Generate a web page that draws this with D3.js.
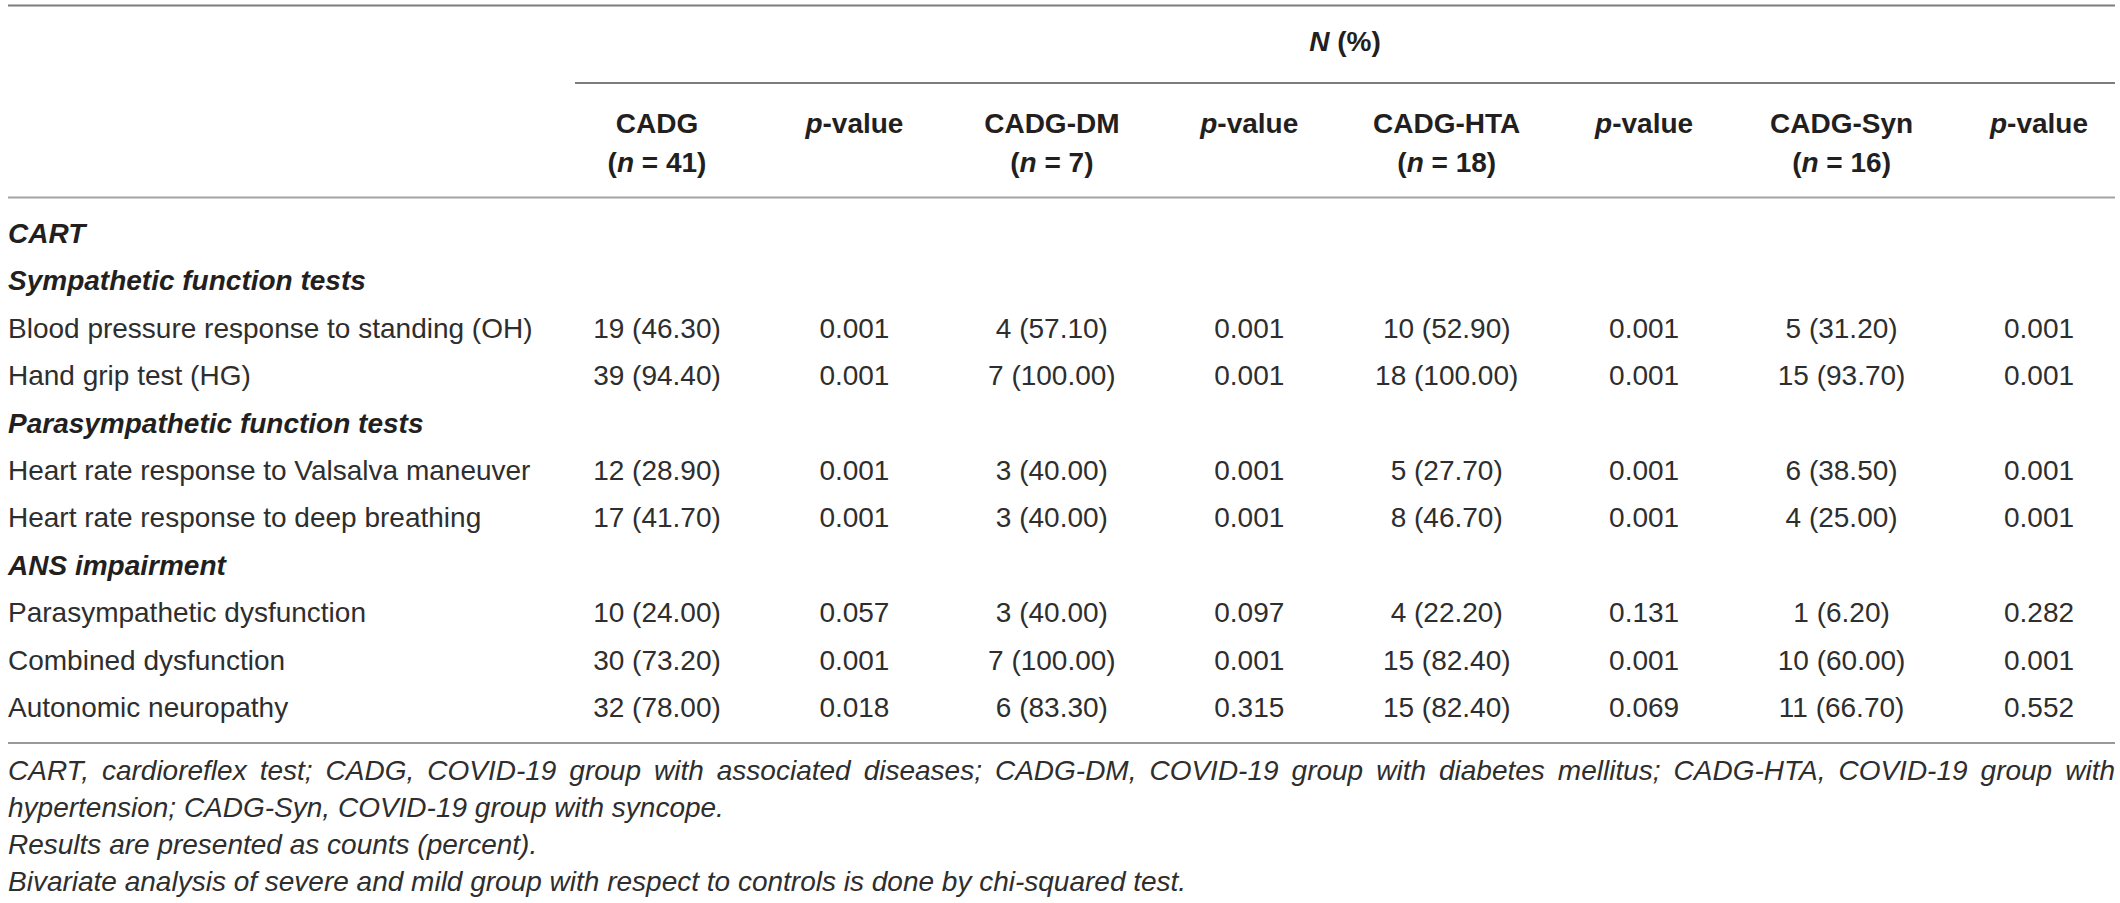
<!DOCTYPE html>
<html>
<head>
<meta charset="utf-8">
<script src="https://cdn.jsdelivr.net/npm/d3@7"></script>
<style>
  body { margin: 0; background: #fff; }
  svg { display: block; }
  text { font-family: "Liberation Sans", Arial, sans-serif; fill: #231f20; }
  text.light { fill: #2e2e2e; }
</style>
</head>
<body>
<div id="table"></div>
<script>
// ---- data ----
const groups = ['CADG', 'CADG-DM', 'CADG-HTA', 'CADG-Syn'];
const groupN = [41, 7, 18, 16];

const sectionLabels = ['CART', 'Sympathetic function tests', 'Parasympathetic function tests', 'ANS impairment'];
const sectionRows = [0, 1, 4, 7];

const testNames = [
  'Blood pressure response to standing (OH)',
  'Hand grip test (HG)',
  'Heart rate response to Valsalva maneuver',
  'Heart rate response to deep breathing',
  'Parasympathetic dysfunction',
  'Combined dysfunction',
  'Autonomic neuropathy',
];
const testRows = [2, 3, 5, 6, 8, 9, 10];

const cadgCounts = [19, 39, 12, 17, 10, 30, 32];
const cadgPct = [46.3, 94.4, 28.9, 41.7, 24.0, 73.2, 78.0];
const cadgP = [0.001, 0.001, 0.001, 0.001, 0.057, 0.001, 0.018];

const dmCounts = [4, 7, 3, 3, 3, 7, 6];
const dmPct = [57.1, 100.0, 40.0, 40.0, 40.0, 100.0, 83.3];
const dmP = [0.001, 0.001, 0.001, 0.001, 0.097, 0.001, 0.315];

const htaCounts = [10, 18, 5, 8, 4, 15, 15];
const htaPct = [52.9, 100.0, 27.7, 46.7, 22.2, 82.4, 82.4];
const htaP = [0.001, 0.001, 0.001, 0.001, 0.131, 0.001, 0.069];

const synCounts = [5, 15, 6, 4, 1, 10, 11];
const synPct = [31.2, 93.7, 38.5, 25.0, 6.2, 60.0, 66.7];
const synP = [0.001, 0.001, 0.001, 0.001, 0.282, 0.001, 0.552];

const footnotes = [
  'CART, cardioreflex test; CADG, COVID-19 group with associated diseases; CADG-DM, COVID-19 group with diabetes mellitus; CADG-HTA, COVID-19 group with',
  'hypertension; CADG-Syn, COVID-19 group with syncope.',
  'Results are presented as counts (percent).',
  'Bivariate analysis of severe and mild group with respect to controls is done by chi-squared test.',
];

// ---- layout ----
const width = 2120;
const height = 903;
const left = 8;
const right = 2115;
const fontSize = 28;

const svg = d3.select('#table').append('svg').attr('width', width).attr('height', height);

const seriesCounts = [cadgCounts, dmCounts, htaCounts, synCounts];
const seriesPct = [cadgPct, dmPct, htaPct, synPct];
const seriesP = [cadgP, dmP, htaP, synP];

const columnKeys = groups.flatMap((g, i) => [`g${i}`, `p${i}`]);
const x = d3.scalePoint().domain(columnKeys).range([657, 2039]);
const y = d3.scalePoint().domain(d3.range(11)).range([243, 717]);

// rules
const rules = [
  { y: 5.5, x1: left, x2: right, color: '#7d7d7d' },
  { y: 83, x1: 575, x2: right, color: '#7d7d7d' },
  { y: 197.5, x1: left, x2: right, color: '#a3a3a3' },
  { y: 743, x1: left, x2: right, color: '#9a9a9a' },
];
svg
  .selectAll('line.rule')
  .data(rules)
  .enter()
  .append('line')
  .attr('class', 'rule')
  .attr('x1', (d) => d.x1)
  .attr('x2', (d) => d.x2)
  .attr('y1', (d) => d.y)
  .attr('y2', (d) => d.y)
  .attr('stroke', (d) => d.color)
  .attr('stroke-width', 2);

// spanning header
const nHeader = svg
  .append('text')
  .attr('x', (575 + right) / 2)
  .attr('y', 51)
  .attr('text-anchor', 'middle')
  .style('font-size', fontSize + 'px')
  .style('font-weight', 'bold');
nHeader.append('tspan').style('font-style', 'italic').text('N');
nHeader.append('tspan').text(' (%)');

// column headers
groups.forEach((g, i) => {
  const cx = x(`g${i}`);
  svg
    .append('text')
    .attr('x', cx)
    .attr('y', 133)
    .attr('text-anchor', 'middle')
    .style('font-size', fontSize + 'px')
    .style('font-weight', 'bold')
    .text(g);
  const nText = svg
    .append('text')
    .attr('x', cx)
    .attr('y', 172)
    .attr('text-anchor', 'middle')
    .style('font-size', fontSize + 'px')
    .style('font-weight', 'bold');
  nText.append('tspan').text('(');
  nText.append('tspan').style('font-style', 'italic').text('n');
  nText.append('tspan').text(` = ${groupN[i]})`);

  const pText = svg
    .append('text')
    .attr('x', x(`p${i}`))
    .attr('y', 133)
    .attr('text-anchor', 'middle')
    .style('font-size', fontSize + 'px')
    .style('font-weight', 'bold');
  pText.append('tspan').style('font-style', 'italic').text('p');
  pText.append('tspan').text('-value');
});

// section labels
svg
  .selectAll('text.section')
  .data(sectionLabels)
  .enter()
  .append('text')
  .attr('class', 'section')
  .attr('x', left)
  .attr('y', (d, i) => y(sectionRows[i]))
  .style('font-size', fontSize + 'px')
  .style('font-weight', 'bold')
  .style('font-style', 'italic')
  .text((d) => d);

// test labels
svg
  .selectAll('text.test')
  .data(testNames)
  .enter()
  .append('text')
  .attr('class', 'test light')
  .attr('x', left)
  .attr('y', (d, i) => y(testRows[i]))
  .style('font-size', fontSize + 'px')
  .text((d) => d);

// cells
groups.forEach((g, gi) => {
  svg
    .selectAll(`text.val-${gi}`)
    .data(testNames)
    .enter()
    .append('text')
    .attr('class', `val-${gi} light`)
    .attr('x', x(`g${gi}`))
    .attr('y', (d, i) => y(testRows[i]))
    .attr('text-anchor', 'middle')
    .style('font-size', fontSize + 'px')
    .text((d, i) => `${seriesCounts[gi][i]} (${seriesPct[gi][i].toFixed(2)})`);
  svg
    .selectAll(`text.pv-${gi}`)
    .data(testNames)
    .enter()
    .append('text')
    .attr('class', `pv-${gi} light`)
    .attr('x', x(`p${gi}`))
    .attr('y', (d, i) => y(testRows[i]))
    .attr('text-anchor', 'middle')
    .style('font-size', fontSize + 'px')
    .text((d, i) => seriesP[gi][i].toFixed(3));
});

// footnotes; first line is justified to the table width
const footY = d3.scalePoint().domain(d3.range(footnotes.length)).range([780, 891]);
footnotes.forEach((line, li) => {
  const g = svg.append('g').attr('class', 'foot');
  if (li === 0) {
    const words = line.split(' ');
    const widths = words.map((w) => {
      const t = g.append('text').style('font-size', fontSize + 'px').style('font-style', 'italic').text(w);
      const len = t.node().getComputedTextLength();
      t.remove();
      return len;
    });
    const gap = (right - left - d3.sum(widths)) / (words.length - 1);
    let cursor = left;
    words.forEach((w, wi) => {
      g.append('text')
        .attr('class', 'light')
        .attr('x', cursor)
        .attr('y', footY(li))
        .style('font-size', fontSize + 'px')
        .style('font-style', 'italic')
        .text(w);
      cursor += widths[wi] + gap;
    });
  } else {
    g.append('text')
      .attr('class', 'light')
      .attr('x', left)
      .attr('y', footY(li))
      .style('font-size', fontSize + 'px')
      .style('font-style', 'italic')
      .text(line);
  }
});
</script>
</body>
</html>
